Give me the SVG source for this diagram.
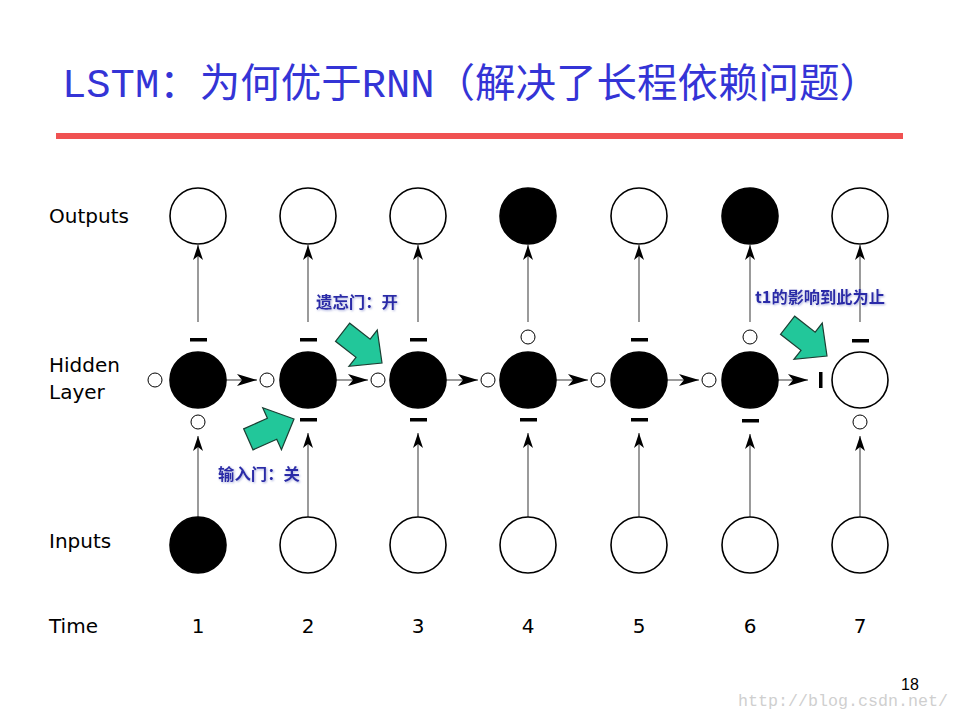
<svg xmlns="http://www.w3.org/2000/svg" xmlns:xlink="http://www.w3.org/1999/xlink" width="960" height="720" viewBox="0 0 960 720">
<style>
.lbl{font-family:"DejaVu Sans",sans-serif;font-size:20px;fill:#000}
.num{font-family:"DejaVu Sans",sans-serif;font-size:20px;fill:#000;text-anchor:middle}
.big{stroke:#000;stroke-width:1.6}
.w{fill:#fff}
.b{fill:#000}
.sm{fill:#fff;stroke:#000;stroke-width:1}
.dash{fill:#000}
.conn{stroke:#707070;stroke-width:1.4;fill:none}
.gate{font-family:"Noto Sans CJK SC","DejaVu Sans",sans-serif;font-size:16px;font-weight:bold;fill:#2b2ba8;filter:url(#sh)}
.garrow{fill:#22c79a;stroke:#1b3f33;stroke-width:1.2;stroke-linejoin:miter}
</style>
<defs>
<marker id="ah" viewBox="0 0 20 12" refX="20" refY="6" markerWidth="20" markerHeight="12" orient="auto" markerUnits="userSpaceOnUse">
<path d="M0,0 L20,6 L0,12 L5,6 Z" fill="#000"/>
</marker>
<marker id="av" viewBox="0 0 15 10" refX="15" refY="5" markerWidth="15" markerHeight="10" orient="auto" markerUnits="userSpaceOnUse">
<path d="M0,0 L15,5 L0,10 L4,5 Z" fill="#000"/>
</marker>
<path id="ga" d="M0,0 L-24,-23 L-24,-11.5 L-50,-11.5 L-50,11.5 L-24,11.5 L-24,23 Z"/>
<filter id="sh" x="-10%" y="-30%" width="120%" height="160%">
<feDropShadow dx="1" dy="1" stdDeviation="1.2" flood-color="#9aa0d8" flood-opacity="0.8"/>
</filter>
</defs>
<rect width="960" height="720" fill="#fff"/>

<g id="title">
<text x="62" y="97" font-family="'Liberation Mono','Noto Sans CJK SC',monospace" font-size="40" fill="#3434d6" textLength="818" lengthAdjust="spacingAndGlyphs">LSTM：为何优于RNN（解决了长程依赖问题）</text>
<rect x="56" y="133" width="847" height="6" fill="#f05252"/>
</g>

<g id="row-labels">
<text class="lbl" x="49" y="223">Outputs</text>
<text class="lbl" x="49" y="372">Hidden</text>
<text class="lbl" x="49" y="399">Layer</text>
<text class="lbl" x="49" y="548">Inputs</text>
<text class="lbl" x="49" y="633">Time</text>
</g>

<g id="time-labels">
<text class="num" x="198" y="633">1</text>
<text class="num" x="308" y="633">2</text>
<text class="num" x="418" y="633">3</text>
<text class="num" x="528" y="633">4</text>
<text class="num" x="639" y="633">5</text>
<text class="num" x="750" y="633">6</text>
<text class="num" x="860" y="633">7</text>
</g>

<g id="connectors">
<line class="conn" x1="198" y1="517" x2="198" y2="436" marker-end="url(#av)"/>
<line class="conn" x1="308" y1="517" x2="308" y2="433" marker-end="url(#av)"/>
<line class="conn" x1="418" y1="517" x2="418" y2="433" marker-end="url(#av)"/>
<line class="conn" x1="528" y1="517" x2="528" y2="433" marker-end="url(#av)"/>
<line class="conn" x1="639" y1="517" x2="639" y2="433" marker-end="url(#av)"/>
<line class="conn" x1="750" y1="517" x2="750" y2="434" marker-end="url(#av)"/>
<line class="conn" x1="860" y1="517" x2="860" y2="436" marker-end="url(#av)"/>

<line class="conn" x1="198" y1="322" x2="198" y2="245" marker-end="url(#av)"/>
<line class="conn" x1="308" y1="322" x2="308" y2="245" marker-end="url(#av)"/>
<line class="conn" x1="418" y1="322" x2="418" y2="245" marker-end="url(#av)"/>
<line class="conn" x1="528" y1="322" x2="528" y2="245" marker-end="url(#av)"/>
<line class="conn" x1="639" y1="322" x2="639" y2="245" marker-end="url(#av)"/>
<line class="conn" x1="750" y1="322" x2="750" y2="245" marker-end="url(#av)"/>
<line class="conn" x1="860" y1="322" x2="860" y2="245" marker-end="url(#av)"/>

<line class="conn" x1="226" y1="380" x2="257" y2="380" marker-end="url(#ah)"/>
<line class="conn" x1="336" y1="380" x2="368" y2="380" marker-end="url(#ah)"/>
<line class="conn" x1="446" y1="380" x2="478" y2="380" marker-end="url(#ah)"/>
<line class="conn" x1="556" y1="380" x2="588" y2="380" marker-end="url(#ah)"/>
<line class="conn" x1="667" y1="380" x2="699" y2="380" marker-end="url(#ah)"/>
<line class="conn" x1="778" y1="380" x2="808" y2="380" marker-end="url(#ah)"/>
</g>

<g id="col1">
<circle class="big w" cx="198" cy="216" r="28"/>
<circle class="big b" cx="198" cy="380" r="28"/>
<circle class="big b" cx="198" cy="545" r="28"/>
<rect class="dash" x="190" y="338" width="17" height="3.5"/>
<circle class="sm" cx="155" cy="380" r="7"/>
<circle class="sm" cx="198" cy="422" r="7"/>
</g>
<g id="col2">
<circle class="big w" cx="308" cy="216" r="28"/>
<circle class="big b" cx="308" cy="380" r="28"/>
<circle class="big w" cx="308" cy="545" r="28"/>
<rect class="dash" x="300" y="338" width="17" height="3.5"/>
<circle class="sm" cx="267" cy="380" r="7"/>
<rect class="dash" x="300" y="418" width="17" height="3.5"/>
</g>
<g id="col3">
<circle class="big w" cx="418" cy="216" r="28"/>
<circle class="big b" cx="418" cy="380" r="28"/>
<circle class="big w" cx="418" cy="545" r="28"/>
<rect class="dash" x="410" y="338" width="17" height="3.5"/>
<circle class="sm" cx="378" cy="380" r="7"/>
<rect class="dash" x="410" y="418" width="17" height="3.5"/>
</g>
<g id="col4">
<circle class="big b" cx="528" cy="216" r="28"/>
<circle class="big b" cx="528" cy="380" r="28"/>
<circle class="big w" cx="528" cy="545" r="28"/>
<circle class="sm" cx="528" cy="337" r="7"/>
<circle class="sm" cx="488" cy="380" r="7"/>
<rect class="dash" x="520" y="418" width="17" height="3.5"/>
</g>
<g id="col5">
<circle class="big w" cx="639" cy="216" r="28"/>
<circle class="big b" cx="639" cy="380" r="28"/>
<circle class="big w" cx="639" cy="545" r="28"/>
<rect class="dash" x="631" y="338" width="17" height="3.5"/>
<circle class="sm" cx="598" cy="380" r="7"/>
<rect class="dash" x="631" y="418" width="17" height="3.5"/>
</g>
<g id="col6">
<circle class="big b" cx="750" cy="216" r="28"/>
<circle class="big b" cx="750" cy="380" r="28"/>
<circle class="big w" cx="750" cy="545" r="28"/>
<circle class="sm" cx="750" cy="337" r="7"/>
<circle class="sm" cx="709" cy="380" r="7"/>
<rect class="dash" x="742" y="419" width="17" height="3.5"/>
</g>
<g id="col7">
<circle class="big w" cx="860" cy="216" r="28"/>
<circle class="big w" cx="860" cy="380" r="28"/>
<circle class="big w" cx="860" cy="545" r="28"/>
<rect class="dash" x="852" y="339" width="17" height="3.5"/>
<rect class="dash" x="819" y="372" width="3.5" height="16"/>
<circle class="sm" cx="860" cy="422" r="7"/>
</g>

<g id="gate-input">
<use href="#ga" class="garrow" transform="translate(294,419) rotate(-24)"/>
<text class="gate" x="218" y="480" textLength="82" lengthAdjust="spacingAndGlyphs">输入门：关</text>
</g>
<g id="gate-forget">
<use href="#ga" class="garrow" transform="translate(382,363) rotate(38)"/>
<text class="gate" x="316" y="308" textLength="82" lengthAdjust="spacingAndGlyphs">遗忘门：开</text>
</g>
<g id="t1-note">
<use href="#ga" class="garrow" transform="translate(827,356) rotate(38)"/>
<text class="gate" x="755" y="303" font-size="15" textLength="130" lengthAdjust="spacingAndGlyphs">t1的影响到此为止</text>
</g>

<g id="footer">
<text x="910" y="690" font-family="'Liberation Sans',sans-serif" font-size="16" fill="#000" text-anchor="middle">18</text>
<text x="738" y="706" font-family="'Liberation Mono',monospace" font-size="16" fill="#cfcfcf" textLength="210" lengthAdjust="spacingAndGlyphs">http://blog.csdn.net/</text>
</g>
</svg>
